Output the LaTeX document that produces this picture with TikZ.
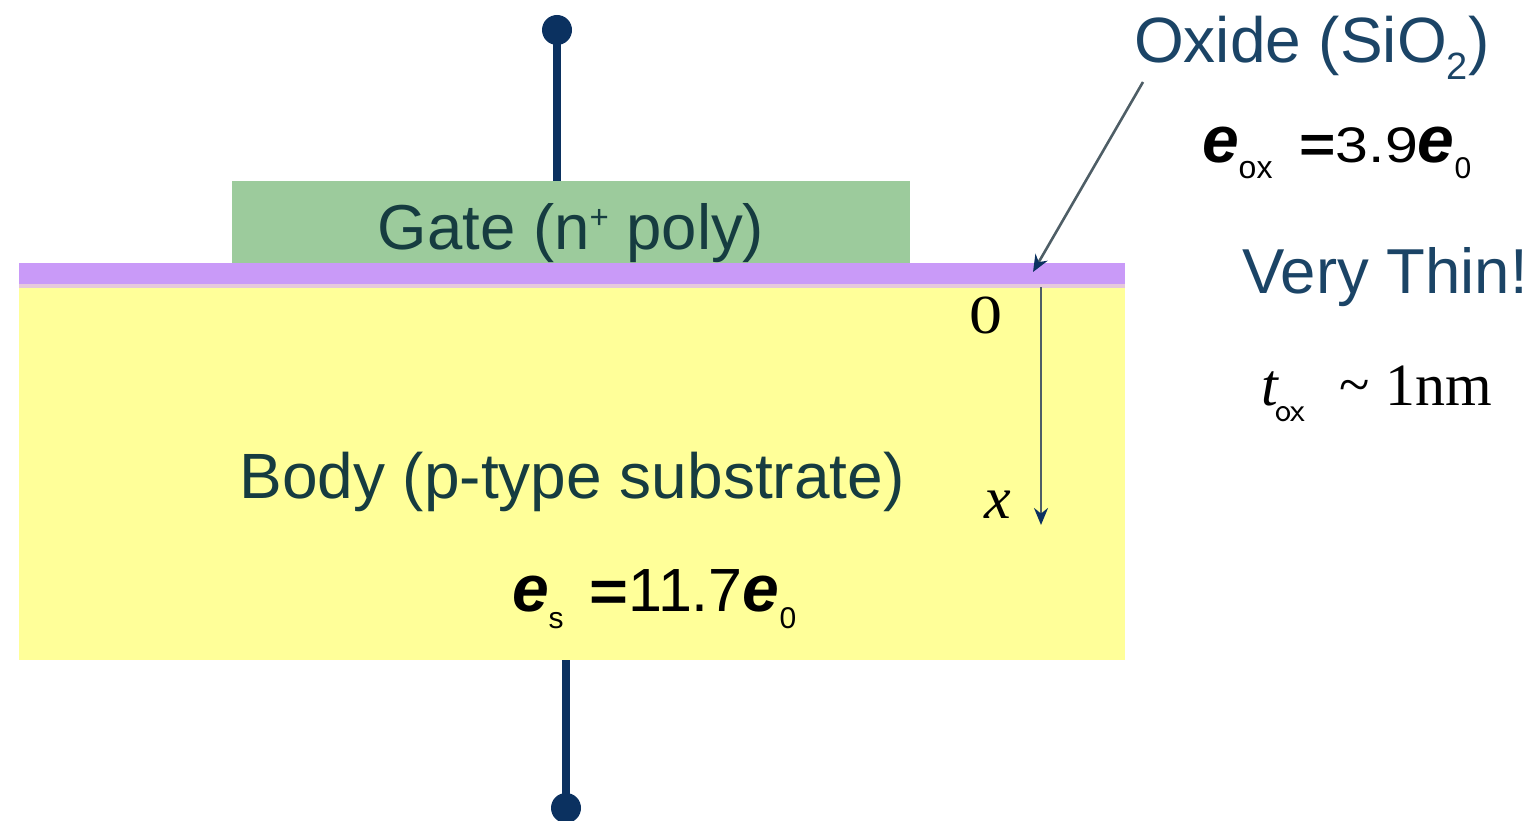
\documentclass[tikz,border=0pt]{standalone}
\usepackage{fontspec}
\setmainfont{Liberation Sans}
\newfontfamily\seriff{Liberation Serif}
\usetikzlibrary{arrows.meta}
\definecolor{gatefill}{HTML}{9CCB9C}
\definecolor{oxfill}{HTML}{C99AF8}
\definecolor{oxedge}{HTML}{E6C8DC}
\definecolor{bodyfill}{HTML}{FFFF99}
\definecolor{navy}{HTML}{0B3160}
\definecolor{txtblue}{HTML}{1B4466}
\definecolor{txtdark}{HTML}{163C40}
\definecolor{arrgray}{HTML}{4E5E66}
\newcommand{\bige}{{\fontsize{66}{66}\selectfont\bfseries\itshape e}}
\tikzset{
  layer/.style={draw=none, inner sep=0pt, outer sep=0pt, anchor=north west},
  termdot/.style={circle, fill=navy, inner sep=0pt, minimum size=30pt},
  termline/.style={draw=navy, line width=8pt},
  lbl/.style={inner sep=0pt, outer sep=0pt, anchor=base west},
  thinarrow/.style={draw=arrgray, line width=2.6pt, -{Stealth[length=17pt,width=14pt,color=navy,fill=navy]}},
}
\begin{document}
\begin{tikzpicture}[x=1pt,y=-1pt]
\useasboundingbox (0,0) rectangle (1532,821);
% layers
\node[layer, fill=bodyfill, minimum width=1106pt, minimum height=373pt] (body) at (19,287) {};
\node[layer, fill=oxedge, minimum width=1106pt, minimum height=4pt] (oxstrip) at (19,284) {};
\node[layer, fill=oxfill, minimum width=1106pt, minimum height=21pt] (oxide) at (19,263) {};
\node[layer, fill=gatefill, minimum width=678pt, minimum height=82pt] (gate) at (232,181) {};
% terminals
\node[termdot] (tdot) at (557,30) {};
\draw[termline] (tdot.center) -- (tdot.center |- gate.north);
\node[termdot] (bdot) at (566,808) {};
\draw[termline] (bdot.center) -- (bdot.center |- body.south);
% text in layers
\node[lbl, anchor=base, text=txtdark] (gatetxt) at (571,250) {\fontsize{63.5}{63.5}\selectfont Gate (n\raisebox{21pt}{\fontsize{33}{33}\selectfont +} poly)};
\node[lbl, anchor=base, text=txtdark] (bodytxt) at (572,498) {\fontsize{64}{64}\selectfont Body (p-type substrate)};
\node[lbl] (estxt) at (512,611) {\bige\raisebox{-17pt}{\fontsize{30}{30}\selectfont s}\hspace{26pt}\scalebox{1.15}[1]{\fontsize{58}{58}\selectfont\bfseries =}\fontsize{61}{61}\selectfont 11.7\bige\raisebox{-17pt}{\fontsize{30}{30}\selectfont 0}};
% axis
\node[lbl] (zero) at (969,333) {\scalebox{1.2}[1]{\seriff\fontsize{55}{55}\selectfont 0}};
\node[lbl] (xlbl) at (984,518) {\seriff\itshape\fontsize{60}{60}\selectfont x};
\coordinate (xtop) at (1041,287);
\coordinate (xbot) at (1041,525);
\draw[thinarrow] (xtop) -- (xbot);
% right side labels
\node[lbl, text=txtblue] (oxlbl) at (1134,63) {\fontsize{64}{64}\selectfont Oxide (SiO\raisebox{-17pt}{\fontsize{38}{38}\selectfont 2})};
\coordinate (oxtail) at (1143,82);
\coordinate (oxtip) at (1033,272);
\draw[thinarrow] (oxtail) -- (oxtip);
\node[lbl] (eoxtxt) at (1202,163) {\bige\raisebox{-16pt}{\fontsize{32}{32}\selectfont ox}\hspace{27pt}\scalebox{1.2}[1]{\fontsize{52}{52}\selectfont\bfseries =}\scalebox{1.18}[1]{\fontsize{50}{50}\selectfont 3.9}\bige\raisebox{-16pt}{\fontsize{30}{30}\selectfont 0}};
\node[lbl, text=txtblue] (thin) at (1242,294) {\fontsize{63.5}{63.5}\selectfont Very Thin!};
\node[lbl] (tox) at (1261,405) {\seriff\itshape\fontsize{60}{60}\selectfont t\hspace{-2pt}\raisebox{-16pt}{\fontsize{34}{34}\selectfont\upshape\sffamily ox}\hspace{34pt}\upshape\fontsize{56}{56}\selectfont\raisebox{2pt}{\textasciitilde}\hspace{16pt}\fontsize{60}{60}\selectfont 1nm};
\end{tikzpicture}
\end{document}
